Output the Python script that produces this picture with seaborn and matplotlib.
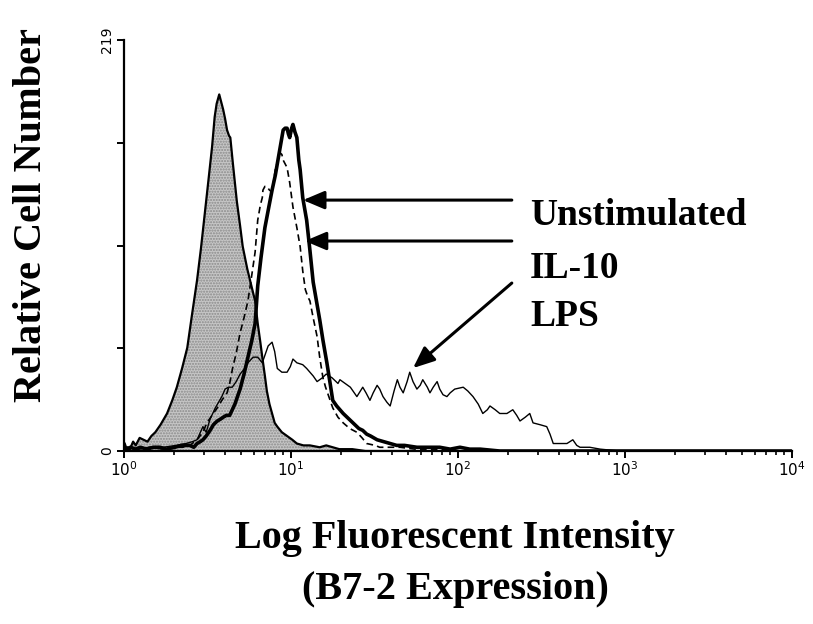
import numpy as np
import pandas as pd
import matplotlib
matplotlib.use("Agg")
import matplotlib.pyplot as plt
import seaborn as sns
from matplotlib.ticker import FixedLocator, LogLocator, NullFormatter

# Flow cytometry histograms: 1024-channel, 4-decade log amplifier
# (channel 256 per decade), counts per channel.
isotype_channel = [0, 5, 9, 14, 18, 24, 30, 36, 42, 48, 56, 66, 74, 81, 89, 97, 104, 112,
                   118, 124, 130, 135, 139, 142, 146, 149, 152, 155, 158, 161, 163, 167,
                   170, 173, 178, 182, 189, 196, 201, 205, 209, 212, 216, 219, 223, 227,
                   231, 235, 242, 250, 258, 265, 275, 285, 300, 310, 330, 350, 370, 1023]
isotype_count = [0, 2, 1, 5, 3, 7, 6, 5, 8, 10, 14, 20, 27, 34, 44, 55, 72, 91,
                 108, 127, 146, 162, 178, 185, 190, 186, 182, 177, 171, 168, 167, 153,
                 143, 133, 120, 109, 97, 87, 80, 68, 58, 50, 40, 32, 25, 20,
                 15, 13, 10, 8, 6, 4, 3, 3, 2, 3, 1, 1, 0, 0]

unstim_channel = [0, 3, 10, 18, 25, 35, 45, 55, 65, 78, 88, 94, 101, 107, 112, 117, 121,
                  126, 132, 137, 143, 148, 152, 157, 162, 166, 170, 178, 184, 190, 196,
                  201, 205, 210, 216, 222, 227, 232, 236, 240, 244, 247, 250, 252, 254,
                  257, 259, 262, 265, 268, 270, 274, 280, 285, 290, 296, 300, 305, 311,
                  316, 320, 326, 331, 336, 342, 348, 354, 360, 366, 372, 378, 388, 398,
                  408, 418, 430, 449, 465, 484, 500, 515, 530, 546, 576, 1023]
unstim_count = [4, 1, 2, 1, 2, 1, 2, 2, 1, 2, 3, 3, 3, 2, 4, 5, 6,
                8, 11, 14, 16, 17, 18, 19, 19, 22, 25, 33, 41, 50, 59,
                68, 88, 103, 119, 130, 139, 147, 155, 163, 171, 172, 172, 169, 167,
                172, 174, 170, 167, 155, 150, 135, 123, 107, 90, 78, 70, 59, 47,
                36, 27, 24, 22, 20, 18, 16, 14, 12, 11, 9, 8, 6, 5,
                4, 3, 3, 2, 2, 2, 1, 2, 1, 1, 0, 0]

il10_channel = [0, 20, 40, 60, 78, 90, 101, 112, 121, 127, 135, 143, 150, 158, 162, 167,
                172, 178, 184, 190, 196, 201, 205, 209, 212, 213, 216, 219, 223, 227,
                229, 232, 236, 239, 242, 244, 247, 250, 254, 259, 265, 270, 274, 278,
                282, 285, 290, 296, 300, 305, 309, 313, 320, 328, 336, 346, 357, 365,
                372, 385, 392, 405, 423, 446, 469, 490, 515, 1023]
il10_count = [1, 1, 2, 1, 2, 2, 3, 6, 10, 15, 19, 23, 27, 31, 36, 45,
              52, 63, 71, 80, 94, 106, 123, 131, 135, 139, 141, 141, 139, 138,
              143, 150, 155, 159, 158, 155, 153, 151, 143, 130, 119, 109, 96, 86,
              82, 80, 71, 61, 50, 39, 34, 30, 23, 18, 15, 12, 10, 7,
              4, 3, 2, 2, 2, 1, 1, 1, 0, 0]

lps_channel = [0, 20, 40, 60, 80, 95, 105, 112, 121, 126, 132, 140, 150, 155, 160, 166,
               172, 178, 185, 190, 198, 205, 212, 216, 221, 227, 231, 235, 242, 250,
               255, 259, 265, 274, 280, 285, 290, 296, 304, 310, 319, 328, 331, 339,
               347, 357, 366, 371, 377, 382, 388, 392, 397, 403, 408, 414, 419, 423,
               428, 434, 438, 443, 449, 454, 458, 465, 469, 474, 480, 484, 489, 495,
               500, 507, 520, 527, 535, 543, 550, 557, 561, 569, 576, 587, 596, 602,
               607, 615, 622, 627, 638, 648, 653, 658, 668, 679, 688, 694, 699, 714,
               730, 760, 1023]
lps_count = [2, 1, 2, 2, 3, 4, 5, 6, 13, 10, 17, 23, 29, 33, 34, 34,
             37, 41, 44, 47, 50, 50, 47, 51, 56, 58, 53, 44, 42, 42,
             45, 49, 47, 46, 44, 42, 40, 37, 39, 41, 39, 36, 38, 36,
             34, 29, 34, 31, 27, 31, 35, 33, 29, 26, 24, 32, 38, 34,
             31, 37, 42, 37, 33, 35, 38, 34, 31, 34, 37, 33, 30, 29,
             31, 33, 34, 32, 29, 25, 20, 22, 24, 22, 20, 20, 22, 19,
             16, 18, 20, 15, 14, 13, 9, 4, 4, 4, 6, 3, 2, 2,
             1, 0, 0]

y_max = 219
x_tick_labels = ["$10^{0}$", "$10^{1}$", "$10^{2}$", "$10^{3}$", "$10^{4}$"]
y_tick_labels = ["0", "", "", "", "219"]
legend_labels = ["Unstimulated", "IL-10", "LPS"]


def to_frame(channel, count):
    ch = np.asarray(channel, dtype=float)
    return pd.DataFrame({"intensity": 10 ** (ch / 256.0), "count": count})


iso = to_frame(isotype_channel, isotype_count)
unstim = to_frame(unstim_channel, unstim_count)
il10 = to_frame(il10_channel, il10_count)
lps = to_frame(lps_channel, lps_count)

sns.set_style("ticks")
plt.rcParams["font.family"] = ["DejaVu Sans"]
plt.rcParams["text.color"] = "black"
plt.rcParams["xtick.color"] = "black"
plt.rcParams["ytick.color"] = "black"
plt.rcParams["axes.labelcolor"] = "black"

fig = plt.figure(figsize=(8.13, 6.24), dpi=100)
ax = fig.add_axes([0.1525, 0.2772, 0.8217, 0.6587])

# Shaded isotype-control histogram
ax.fill_between(iso["intensity"], iso["count"], 0, facecolor="#c6c6c6",
                edgecolor="#8a8a8a", hatch="......", linewidth=0, zorder=1)
sns.lineplot(data=iso, x="intensity", y="count", ax=ax, color="black",
             linewidth=1.6, estimator=None, sort=False, zorder=2)

sns.lineplot(data=lps, x="intensity", y="count", ax=ax, color="black",
             linewidth=1.0, estimator=None, sort=False, zorder=3)
sns.lineplot(data=il10, x="intensity", y="count", ax=ax, color="black",
             linewidth=1.2, estimator=None, sort=False, zorder=4,
             dashes=False, linestyle=(0, (4, 2.5)))
sns.lineplot(data=unstim, x="intensity", y="count", ax=ax, color="black",
             linewidth=2.6, estimator=None, sort=False, zorder=5)

ax.set_xscale("log")
ax.set_xlim(1, 1e4)
ax.set_ylim(0, y_max)

ax.xaxis.set_major_locator(FixedLocator([1, 10, 100, 1000, 10000]))
ax.set_xticklabels(x_tick_labels, fontsize=11)
ax.xaxis.set_minor_locator(LogLocator(base=10, subs=np.arange(2, 10)))
ax.xaxis.set_minor_formatter(NullFormatter())
ax.set_yticks(np.linspace(0, y_max, 5))
ax.set_yticklabels(y_tick_labels, fontsize=10, rotation=90, va="center")

ax.tick_params(axis="both", which="major", direction="out", length=5, width=1.4,
               color="black", pad=2, labelcolor="black")
ax.tick_params(axis="x", which="minor", direction="out", length=3, width=1.2,
               color="black")
for side in ("left", "bottom"):
    ax.spines[side].set_linewidth(1.6)
    ax.spines[side].set_color("black")
sns.despine(ax=ax)

serif = ["Liberation Serif", "DejaVu Serif"]
ax.set_xlabel("")
ax.set_ylabel("")
fig.text(0.039, 0.655, "Relative Cell Number", rotation=90, ha="center",
         va="center", fontsize=29, fontweight="bold", family=serif, color="black")
fig.text(0.56, 0.096, "Log Fluorescent Intensity\n(B7-2 Expression)",
         ha="center", va="center", fontsize=29, fontweight="bold",
         family=serif, linespacing=1.5, color="black")

# Labels and arrows pointing at each histogram
label_x = 270
label_y = [125.7, 97.5, 71.9]
for text, y in zip(legend_labels, label_y):
    ax.text(label_x, y, text, ha="left", va="center", fontsize=27,
            fontweight="bold", family=serif, color="black")

arrow_tail = [(210, 133.7), (210, 111.9), (210, 89.5)]
arrow_tip = [(11.8, 133.7), (12.1, 111.9), (53.8, 44.2)]
for tail, tip in zip(arrow_tail, arrow_tip):
    ax.annotate("", xy=tip, xytext=tail,
                arrowprops=dict(arrowstyle="-|>,head_length=1.3,head_width=0.55",
                                color="black", linewidth=2.2,
                                shrinkA=0, shrinkB=0), zorder=6)

fig.savefig("out.png", dpi=100, facecolor="white")
